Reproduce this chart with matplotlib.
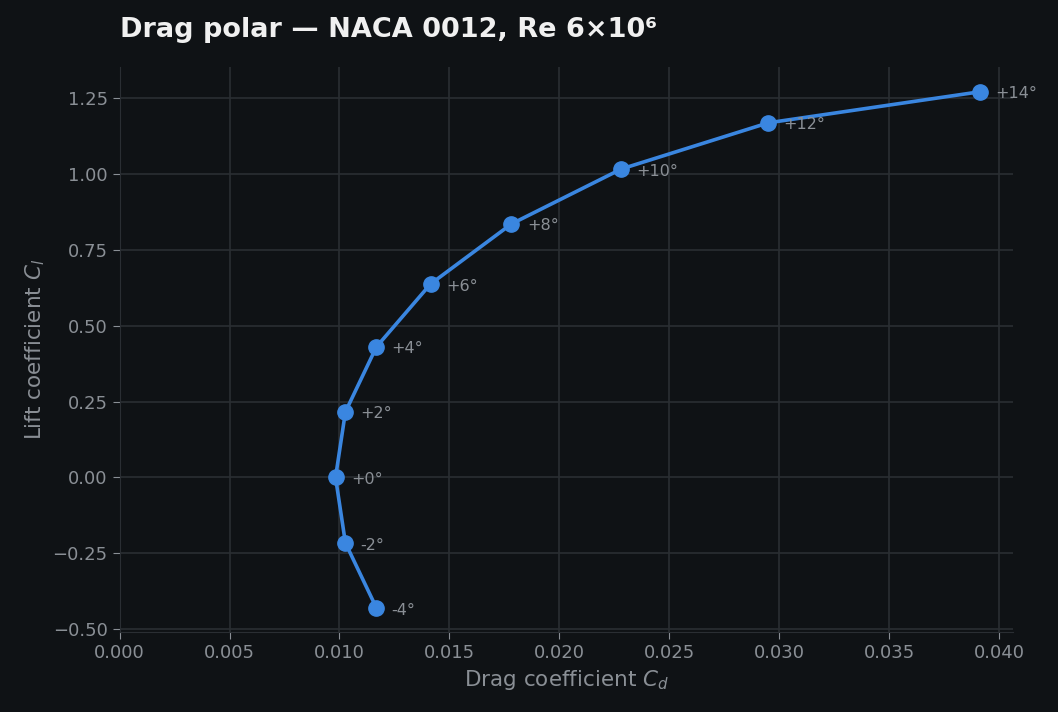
import matplotlib
matplotlib.use("Agg")
import matplotlib.pyplot as plt

ALPHA = [-4, -2, 0, 2, 4, 6, 8, 10, 12, 14]
CD = [0.01168, 0.01027, 0.00982, 0.01027, 0.01168, 0.01414, 0.01782, 0.02282, 0.0295, 0.0391]
CL = [-0.43, -0.216, 0.0, 0.216, 0.43, 0.637, 0.835, 1.016, 1.168, 1.27]
LABELS = [f"{a:+d}°" if a != 0 else "+0°" for a in ALPHA]

BG = "#0f1215"
GRID = "#2a2e33"
TXT = "#8a8f95"
BLUE = "#3a86e0"

fig = plt.figure(figsize=(10.58, 7.12), dpi=100, facecolor=BG)
ax = fig.add_axes([0.113, 0.112, 0.844, 0.794], facecolor=BG)
ax.plot(CD, CL, color=BLUE, lw=2.6, marker="o", ms=11, zorder=3)
for x, y, t in zip(CD, CL, LABELS):
    ax.annotate(t, (x, y), xytext=(11, -1.5), textcoords="offset points",
                color=TXT, fontsize=11.5, va="center")

ax.set_xlim(0, 0.0406)
ax.set_ylim(-0.51, 1.352)
ax.set_xticks([0.005 * i for i in range(9)])
ax.set_yticks([-0.5, -0.25, 0, 0.25, 0.5, 0.75, 1.0, 1.25])
ax.grid(True, color=GRID, lw=1.2)
ax.set_axisbelow(True)
for s in ["top", "right"]:
    ax.spines[s].set_visible(False)
for s in ["left", "bottom"]:
    ax.spines[s].set_color(GRID)
ax.tick_params(colors=TXT, labelsize=13, length=5)
ax.set_xlabel("Drag coefficient $C_d$", color=TXT, fontsize=15.5)
ax.set_ylabel("Lift coefficient $C_l$", color=TXT, fontsize=15.5)
fig.text(0.113, 0.94, "Drag polar — NACA 0012, Re 6×10⁶", color="#f0f0f0",
         fontsize=19.5, fontweight="bold", va="bottom")

fig.savefig("out.png", facecolor=BG)
